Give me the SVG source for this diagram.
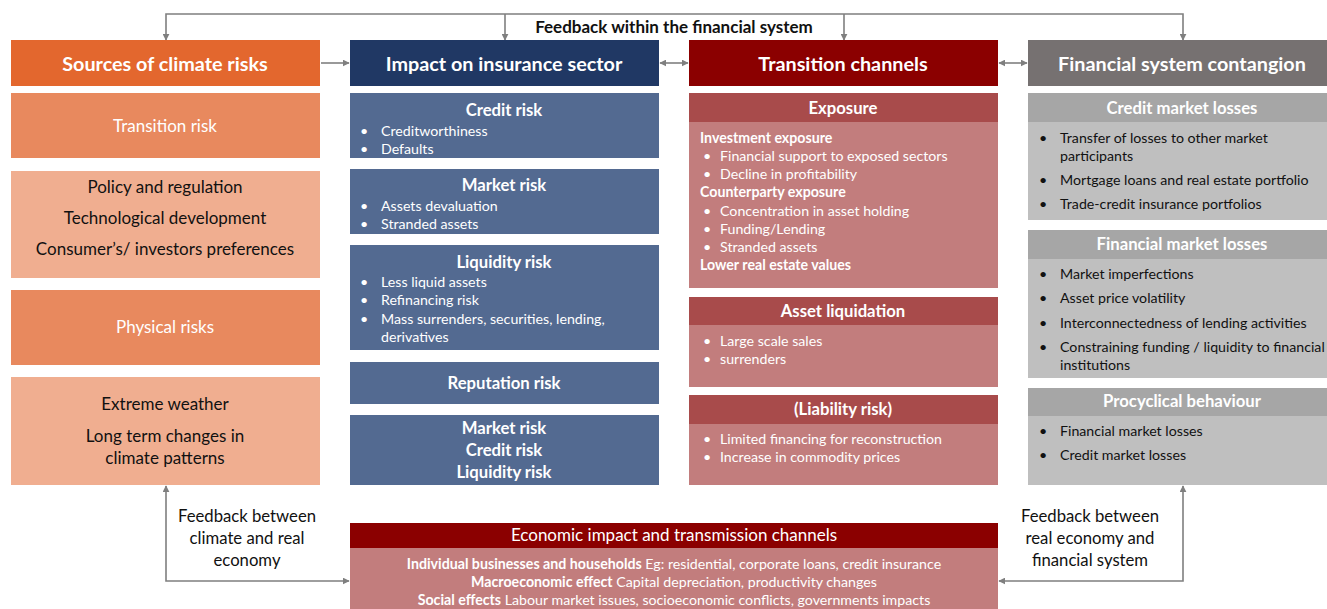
<svg xmlns="http://www.w3.org/2000/svg" width="1327" height="609" viewBox="0 0 1327 609">
<defs>
<marker id="ah" viewBox="0 0 10 10" refX="9" refY="5" markerWidth="7" markerHeight="7" markerUnits="userSpaceOnUse" orient="auto-start-reverse">
<path d="M0,0 L10,5 L0,10 z" fill="#7F7F7F"/>
</marker>
<style>
text{font-family:Lato,"Open Sans","Liberation Sans",sans-serif;}
.hd{font-size:19.8px;font-weight:bold;fill:#fff;text-anchor:middle;}
.t1w{font-size:17px;fill:#fff;text-anchor:middle;}
.t1b{font-size:17px;fill:#111;text-anchor:middle;}
.st{font-size:16.7px;font-weight:bold;fill:#fff;text-anchor:middle;}
.bl{font-size:14.2px;fill:#fff;}
.blb{font-size:14.2px;fill:#fff;font-weight:bold;}
.gk{font-size:14.2px;fill:#111;}
.fb{font-size:16.7px;fill:#111;text-anchor:middle;}
.ln{fill:none;stroke:#7F7F7F;stroke-width:1.6;}
.o0{fill:#E3672E;}
.o1{fill:#E8895E;} .o2{fill:#F0AE90;}
.b1{fill:#203864;} .b2{fill:#536A91;}
.r1{fill:#8B0000;} .r2{fill:#A84B4B;} .r3{fill:#C27D7D;}
.g1{fill:#767171;} .g2{fill:#A6A6A6;} .g3{fill:#BFBFBF;}
</style>
</defs>
<g id="connectors">
<polyline class="ln" points="166,40 166,14 1183,14 1183,40" marker-start="url(#ah)" marker-end="url(#ah)"/>
<line class="ln" x1="505" y1="14" x2="505" y2="40" marker-end="url(#ah)"/>
<line class="ln" x1="844" y1="14" x2="844" y2="40" marker-end="url(#ah)"/>
<line class="ln" x1="321" y1="63" x2="349" y2="63" marker-end="url(#ah)"/>
<line class="ln" x1="660" y1="63" x2="688" y2="63" marker-start="url(#ah)" marker-end="url(#ah)"/>
<line class="ln" x1="999" y1="63" x2="1027" y2="63" marker-start="url(#ah)" marker-end="url(#ah)"/>
<polyline class="ln" points="166,486 166,581 349,581" marker-start="url(#ah)" marker-end="url(#ah)"/>
<polyline class="ln" points="1183,486 1183,581 999,581" marker-start="url(#ah)" marker-end="url(#ah)"/>
<text x="674" y="33" style="font-size:17px;font-weight:bold;fill:#111;text-anchor:middle;">Feedback within the financial system</text>
<text class="fb" x="247" y="522">Feedback between</text>
<text class="fb" x="247" y="544">climate and real</text>
<text class="fb" x="247" y="566">economy</text>
<text class="fb" x="1090" y="522">Feedback between</text>
<text class="fb" x="1090" y="544">real economy and</text>
<text class="fb" x="1090" y="566">financial system</text>
</g>
<g id="col1">
<rect class="o0" x="11" y="40" width="309" height="46"/>
<text class="hd" x="165" y="71">Sources of climate risks</text>
<rect class="o1" x="11" y="93" width="309" height="65"/>
<text class="t1w" x="165" y="132">Transition risk</text>
<rect class="o2" x="11" y="171" width="309" height="107"/>
<text class="t1b" x="165" y="193">Policy and regulation</text>
<text class="t1b" x="165" y="224">Technological development</text>
<text class="t1b" x="165" y="255">Consumer’s/ investors preferences</text>
<rect class="o1" x="11" y="290" width="309" height="75"/>
<text class="t1w" x="165" y="333">Physical risks</text>
<rect class="o2" x="11" y="377" width="309" height="108"/>
<text class="t1b" x="165" y="410">Extreme weather</text>
<text class="t1b" x="165" y="442">Long term changes in</text>
<text class="t1b" x="165" y="464">climate patterns</text>
</g>
<g id="col2">
<rect class="b1" x="350" y="40" width="309" height="46"/>
<text class="hd" x="504" y="71">Impact on insurance sector</text>
<rect class="b2" x="350" y="93" width="309" height="65"/>
<text class="st" x="504" y="116">Credit risk</text>
<text class="bl" x="360" y="136">•</text><text class="bl" x="381" y="136">Creditworthiness</text>
<text class="bl" x="360" y="154">•</text><text class="bl" x="381" y="154">Defaults</text>
<rect class="b2" x="350" y="169" width="309" height="65"/>
<text class="st" x="504" y="191">Market risk</text>
<text class="bl" x="360" y="211">•</text><text class="bl" x="381" y="211">Assets devaluation</text>
<text class="bl" x="360" y="229">•</text><text class="bl" x="381" y="229">Stranded assets</text>
<rect class="b2" x="350" y="245" width="309" height="105"/>
<text class="st" x="504" y="268">Liquidity risk</text>
<text class="bl" x="360" y="287">•</text><text class="bl" x="381" y="287">Less liquid assets</text>
<text class="bl" x="360" y="305">•</text><text class="bl" x="381" y="305">Refinancing risk</text>
<text class="bl" x="360" y="324">•</text><text class="bl" x="381" y="324">Mass surrenders, securities, lending,</text>
<text class="bl" x="381" y="342">derivatives</text>
<rect class="b2" x="350" y="362" width="309" height="42"/>
<text class="st" x="504" y="389">Reputation risk</text>
<rect class="b2" x="350" y="415" width="309" height="70"/>
<text class="st" x="504" y="434">Market risk</text>
<text class="st" x="504" y="456">Credit risk</text>
<text class="st" x="504" y="478">Liquidity risk</text>
</g>
<g id="col3">
<rect class="r1" x="689" y="40" width="309" height="46"/>
<text class="hd" x="843" y="71">Transition channels</text>
<rect class="r3" x="689" y="93" width="309" height="195"/>
<rect class="r2" x="689" y="93" width="309" height="29"/>
<text class="st" x="843" y="114">Exposure</text>
<text class="blb" x="700" y="143">Investment exposure</text>
<text class="bl" x="703" y="161">•</text><text class="bl" x="720" y="161">Financial support to exposed sectors</text>
<text class="bl" x="703" y="179">•</text><text class="bl" x="720" y="179">Decline in profitability</text>
<text class="blb" x="700" y="197">Counterparty exposure</text>
<text class="bl" x="703" y="216">•</text><text class="bl" x="720" y="216">Concentration in asset holding</text>
<text class="bl" x="703" y="234">•</text><text class="bl" x="720" y="234">Funding/Lending</text>
<text class="bl" x="703" y="252">•</text><text class="bl" x="720" y="252">Stranded assets</text>
<text class="blb" x="700" y="270">Lower real estate values</text>
<rect class="r3" x="689" y="297" width="309" height="90"/>
<rect class="r2" x="689" y="297" width="309" height="28"/>
<text class="st" x="843" y="317">Asset liquidation</text>
<text class="bl" x="703" y="346">•</text><text class="bl" x="720" y="346">Large scale sales</text>
<text class="bl" x="703" y="364">•</text><text class="bl" x="720" y="364">surrenders</text>
<rect class="r3" x="689" y="395" width="309" height="90"/>
<rect class="r2" x="689" y="395" width="309" height="29"/>
<text class="st" x="843" y="415">(Liability risk)</text>
<text class="bl" x="703" y="444">•</text><text class="bl" x="720" y="444">Limited financing for reconstruction</text>
<text class="bl" x="703" y="462">•</text><text class="bl" x="720" y="462">Increase in commodity prices</text>
</g>
<g id="col4">
<rect class="g1" x="1028" y="40" width="299" height="46"/>
<text class="hd" x="1182" y="71">Financial system contangion</text>
<rect class="g3" x="1028" y="93" width="299" height="127"/>
<rect class="g2" x="1028" y="93" width="299" height="29"/>
<text class="st" x="1182" y="114">Credit market losses</text>
<text class="gk" x="1039" y="143">•</text><text class="gk" x="1060" y="143">Transfer of losses to other market</text>
<text class="gk" x="1060" y="161">participants</text>
<text class="gk" x="1039" y="185">•</text><text class="gk" x="1060" y="185">Mortgage loans and real estate portfolio</text>
<text class="gk" x="1039" y="209">•</text><text class="gk" x="1060" y="209">Trade-credit insurance portfolios</text>
<rect class="g3" x="1028" y="230" width="299" height="148"/>
<rect class="g2" x="1028" y="230" width="299" height="29"/>
<text class="st" x="1182" y="250">Financial  market losses</text>
<text class="gk" x="1039" y="279">•</text><text class="gk" x="1060" y="279">Market imperfections</text>
<text class="gk" x="1039" y="303">•</text><text class="gk" x="1060" y="303">Asset price volatility</text>
<text class="gk" x="1039" y="328">•</text><text class="gk" x="1060" y="328">Interconnectedness of lending activities</text>
<text class="gk" x="1039" y="352">•</text><text class="gk" x="1060" y="352">Constraining funding / liquidity to financial</text>
<text class="gk" x="1060" y="370">institutions</text>
<rect class="g3" x="1028" y="388" width="299" height="97"/>
<rect class="g2" x="1028" y="388" width="299" height="28"/>
<text class="st" x="1182" y="407">Procyclical  behaviour</text>
<text class="gk" x="1039" y="436">•</text><text class="gk" x="1060" y="436">Financial market losses</text>
<text class="gk" x="1039" y="460">•</text><text class="gk" x="1060" y="460">Credit market losses</text>
</g>
<g id="econ">
<rect class="r3" x="350" y="523" width="648" height="86"/>
<rect class="r1" x="350" y="523" width="648" height="25"/>
<text class="t1w" x="674" y="541">Economic impact and transmission channels</text>
<text class="bl" x="674" y="569" text-anchor="middle"><tspan font-weight="bold">Individual businesses and households</tspan> Eg: residential, corporate loans, credit insurance</text>
<text class="bl" x="674" y="587" text-anchor="middle"><tspan font-weight="bold">Macroeconomic effect</tspan> Capital depreciation, productivity changes</text>
<text class="bl" x="674" y="605" text-anchor="middle"><tspan font-weight="bold">Social effects</tspan> Labour market issues, socioeconomic conflicts, governments impacts</text>
</g>
</svg>
